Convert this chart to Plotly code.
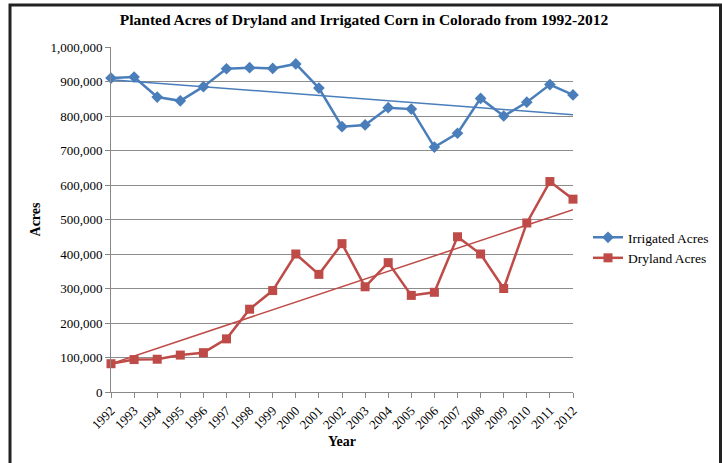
import numpy as np
import plotly.graph_objects as go

years = list(range(1992, 2013))
irrigated = [910000, 913000, 855000, 844000, 885000, 937000, 940000, 938000, 951000, 881000,
             769000, 774000, 824000, 820000, 710000, 750000, 851000, 800000, 840000, 891000, 861000]
dryland = [82000, 94000, 95000, 107000, 114000, 154000, 240000, 294000, 400000, 341000,
           430000, 305000, 375000, 280000, 289000, 450000, 400000, 300000, 490000, 610000, 559000]

BLUE = "#4a7ebb"
RED = "#be4b48"
FONT = "Liberation Serif"

x = np.array(years, dtype=float)
pi = np.polyfit(x, irrigated, 1)
pd_ = np.polyfit(x, dryland, 1)
ends = np.array([years[0], years[-1]], dtype=float)

fig = go.Figure()
fig.add_trace(go.Scatter(x=ends, y=np.polyval(pi, ends), mode="lines",
                         line=dict(color=BLUE, width=1.5), showlegend=False, hoverinfo="skip"))
fig.add_trace(go.Scatter(x=ends, y=np.polyval(pd_, ends), mode="lines",
                         line=dict(color=RED, width=1.5), showlegend=False, hoverinfo="skip"))
fig.add_trace(go.Scatter(x=years, y=irrigated, name="Irrigated Acres", mode="lines+markers",
                         line=dict(color=BLUE, width=2.5), cliponaxis=False,
                         marker=dict(symbol="diamond", size=9, color=BLUE)))
fig.add_trace(go.Scatter(x=years, y=dryland, name="Dryland Acres", mode="lines+markers",
                         line=dict(color=RED, width=2.5), cliponaxis=False,
                         marker=dict(symbol="square", size=9, color=RED)))

L, R, T, B = 111, 149, 47, 71
W, H = 722, 463
pw, ph = W - L - R, H - T - B

def px(xp):
    return (xp - L) / pw

def py(yp):
    return (H - B - yp) / ph

fig.update_layout(
    width=W, height=H,
    margin=dict(l=L, r=R, t=T, b=B, autoexpand=False),
    paper_bgcolor="white", plot_bgcolor="white",
    font=dict(family=FONT, size=13, color="black"),
    title=dict(text="<b>Planted Acres of Dryland and Irrigated Corn in Colorado from 1992-2012</b>",
               x=364 / W, xanchor="center", y=1 - 20 / H, yanchor="middle",
               font=dict(family=FONT, size=15.5, color="black")),
    xaxis=dict(range=[1992, 2012], tickmode="array", tickvals=years, ticktext=[str(y) for y in years],
               tickangle=-45, showgrid=False, showline=True, linecolor="#888", linewidth=1,
               ticks="outside", ticklen=5, tickcolor="#888", zeroline=False, automargin=False,
               tickfont=dict(family=FONT, size=13),
               title=dict(text="<b>Year</b>", font=dict(family=FONT, size=14), standoff=4)),
    yaxis=dict(range=[0, 1000000], dtick=100000, tickformat=",d", showgrid=True,
               gridcolor="#8c8c8c", gridwidth=1, showline=True, linecolor="#888", linewidth=1,
               ticks="outside", ticklen=5, tickcolor="#888", zeroline=False, automargin=False,
               tickfont=dict(family=FONT, size=13),
               title=dict(text="<b>Acres</b>", font=dict(family=FONT, size=14), standoff=6)),
    legend=dict(xref="container", yref="container", x=588 / W, xanchor="left",
                y=(H - 248) / H, yanchor="middle",
                font=dict(family=FONT, size=13.5), bgcolor="rgba(0,0,0,0)",
                itemwidth=30, tracegroupgap=0),
    shapes=[dict(type="rect", xref="paper", yref="paper",
                 x0=px(10), x1=px(720.5), y0=py(475), y1=py(5),
                 line=dict(color="#222", width=3), layer="above")],
)

fig.write_html("out.html", config={"displayModeBar": False},
               post_script="document.body.style.margin='0';")
